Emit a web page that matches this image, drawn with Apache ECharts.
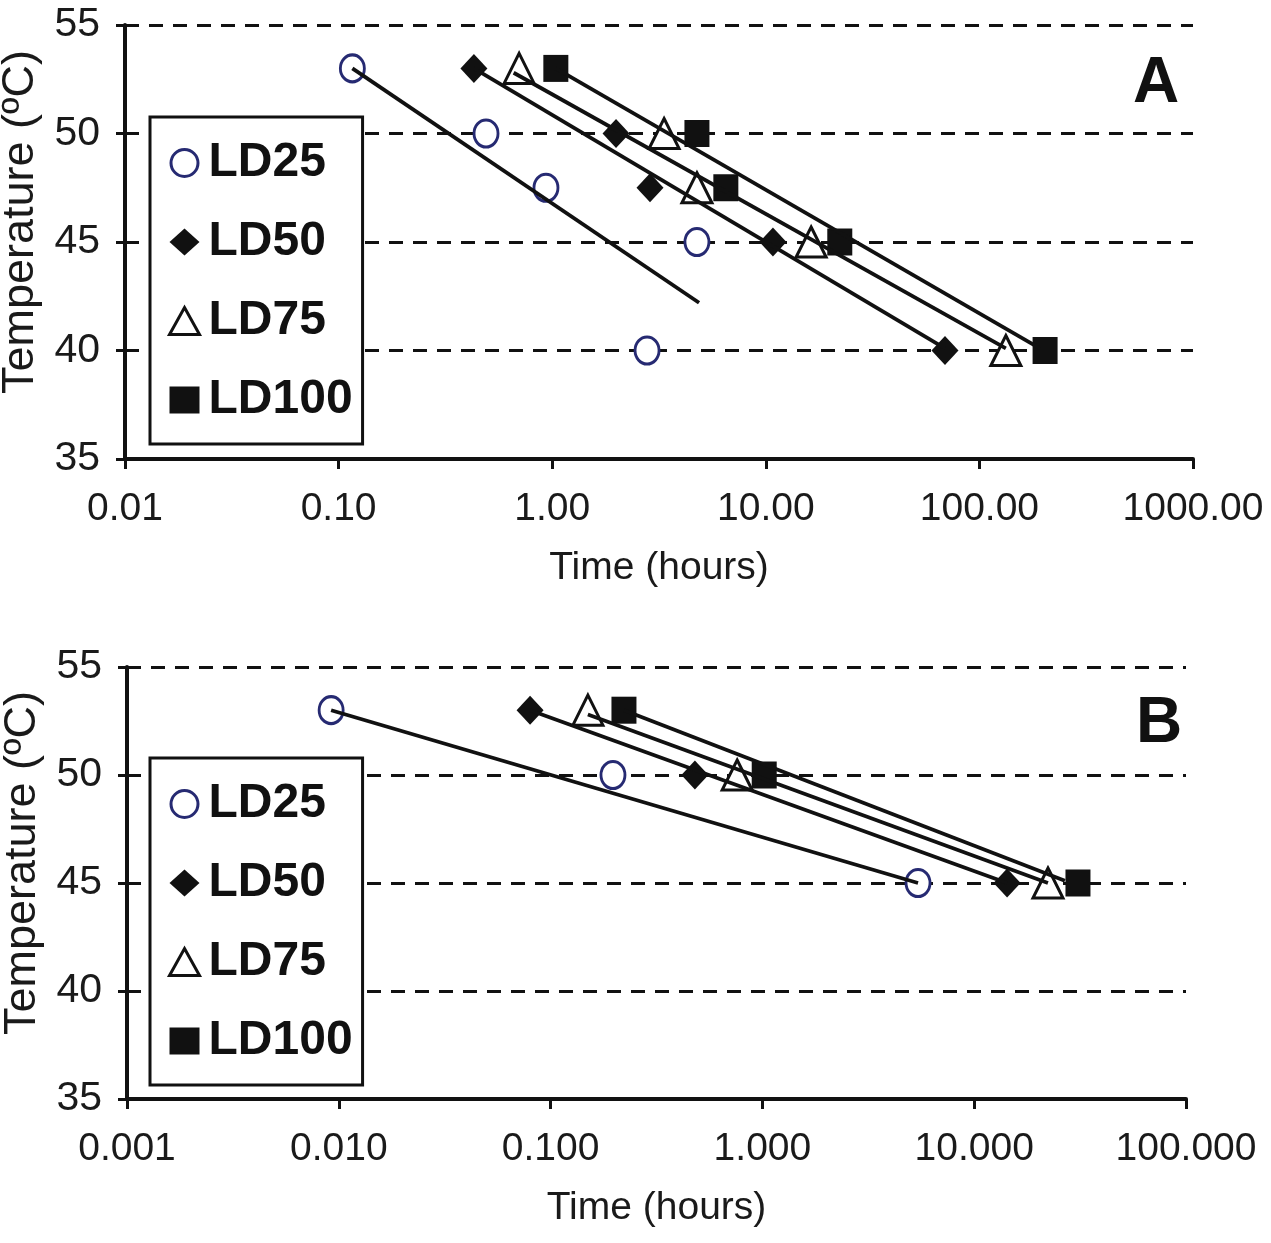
<!DOCTYPE html>
<html>
<head>
<meta charset="utf-8">
<script src="https://cdn.jsdelivr.net/npm/echarts@6/dist/echarts.min.js"></script>
<style>
html,body{margin:0;padding:0;background:#fff;}
#chart{width:1271px;height:1243px;}
</style>
</head>
<body>
<div id="chart"></div>
<script>
// ---------- data ----------
const seriesNames = ['LD25', 'LD50', 'LD75', 'LD100'];

// Panel A : [time (hours), temperature (°C)]
const A_LD25  = [[0.116, 53], [0.49, 50], [0.935, 47.5], [4.76, 45], [2.78, 40]];
const A_LD50  = [[0.43, 53], [1.99, 50], [2.87, 47.5], [10.8, 45], [69, 40]];
const A_LD75  = [[0.70, 53], [3.34, 50], [4.76, 47.5], [16.3, 45], [133, 40]];
const A_LD100 = [[1.04, 53], [4.76, 50], [6.5, 47.5], [22.2, 45], [203, 40]];
// Panel A regression lines (end points)
const A_fit25  = [[0.116, 53.0], [4.87, 42.2]];
const A_fit50  = [[0.43, 53.0], [69, 40.1]];
const A_fit75  = [[0.66, 52.8], [133, 40.1]];
const A_fit100 = [[1.04, 53.0], [192, 40.1]];

// Panel B
const B_LD25  = [[0.0092, 53], [0.197, 50], [5.43, 45]];
const B_LD50  = [[0.080, 53], [0.48, 50], [14.3, 45]];
const B_LD75  = [[0.150, 53], [0.76, 50], [22.3, 45]];
const B_LD100 = [[0.222, 53], [1.02, 50], [30.9, 45]];
const B_fit25  = [[0.0092, 53.0], [5.43, 45.0]];
const B_fit50  = [[0.080, 53.0], [14.3, 45.0]];
const B_fit75  = [[0.150, 52.8], [22.3, 45.0]];
const B_fit100 = [[0.222, 53.0], [26.8, 45.1]];

// tick labels
const xTickValuesA = [0.01, 0.1, 1, 10, 100, 1000];
const xTickLabelsA = ['0.01', '0.10', '1.00', '10.00', '100.00', '1000.00'];
const xTickValuesB = [0.001, 0.01, 0.1, 1, 10, 100];
const xTickLabelsB = ['0.001', '0.010', '0.100', '1.000', '10.000', '100.000'];
const yTicks = [35, 40, 45, 50, 55];

// ---------- styles ----------
const FONT = "'Liberation Sans', Arial, sans-serif";
const NAVY = '#262a72';
const INK = '#111';
const symbolStyles = {
  LD25:  {symbol: 'circle',   size: [24, 27], itemStyle: {color: '#fff', borderColor: NAVY, borderWidth: 3, opacity: 1}},
  LD50:  {symbol: 'diamond',  size: [27, 29], itemStyle: {color: INK, opacity: 1}},
  LD75:  {symbol: 'triangle', size: [30, 30], itemStyle: {color: '#fff', borderColor: INK, borderWidth: 3, opacity: 1}},
  LD100: {symbol: 'rect',     size: [25, 27], itemStyle: {color: INK, opacity: 1}}
};

function labelFor(values, labels) {
  return function (v) {
    for (let i = 0; i < values.length; i++) {
      if (Math.abs(Math.log10(v) - Math.log10(values[i])) < 1e-6) return labels[i];
    }
    return '';
  };
}

function xAxisDef(gridIndex, values, labels) {
  return {
    type: 'log', logBase: 10, gridIndex: gridIndex,
    min: values[0], max: values[values.length - 1], splitNumber: 5,
    name: 'Time (hours)', nameLocation: 'middle', nameGap: 90,
    nameTextStyle: {fontFamily: FONT, fontSize: 39, color: '#1a1a1a'},
    axisLine: {show: true, lineStyle: {color: INK, width: 4}},
    axisTick: {show: true, inside: false, length: 10, lineStyle: {color: INK, width: 3}},
    minorTick: {show: false},
    splitLine: {show: false},
    axisLabel: {margin: 31, fontFamily: FONT, fontSize: 39, color: '#1a1a1a',
                formatter: labelFor(values, labels)}
  };
}

function yAxisDef(gridIndex) {
  return {
    type: 'value', gridIndex: gridIndex,
    min: yTicks[0], max: yTicks[yTicks.length - 1], interval: 5,
    name: 'Temperature (ºC)', nameLocation: 'middle', nameGap: 80,
    nameTextStyle: {fontFamily: FONT, fontSize: 45, color: '#1a1a1a', padding: [0, 0, 0, 40]},
    axisLine: {show: true, lineStyle: {color: INK, width: 4}},
    axisTick: {show: true, inside: false, length: 9, lineStyle: {color: INK, width: 3}},
    splitLine: {show: true, lineStyle: {color: INK, width: 3, type: [14, 10]}},
    axisLabel: {margin: 25, fontFamily: FONT, fontSize: 41, color: '#1a1a1a'}
  };
}

function scatter(name, data, idx) {
  const s = symbolStyles[name];
  return {
    type: 'scatter', name: name, data: data,
    xAxisIndex: idx, yAxisIndex: idx,
    symbol: s.symbol, symbolSize: s.size, itemStyle: s.itemStyle,
    z: 3, silent: true
  };
}
function fit(id, data, idx) {
  return {
    type: 'line', name: id, data: data,
    xAxisIndex: idx, yAxisIndex: idx,
    symbol: 'none', lineStyle: {color: INK, width: 3.8}, z: 4, silent: true
  };
}

function legendDef(top) {
  return {
    orient: 'vertical', left: 150, top: top,
    padding: [22, 10, 20, 18],
    itemGap: 31, itemWidth: 30, itemHeight: 27,
    borderColor: INK, borderWidth: 3, backgroundColor: '#fff',
    selectedMode: false,
    textStyle: {fontFamily: FONT, fontSize: 48, fontWeight: 'bold', color: INK,
                lineHeight: 44, padding: [0, 0, 0, 4]},
    data: seriesNames.map(n => ({name: n, icon: symbolStyles[n].symbol, itemStyle: symbolStyles[n].itemStyle}))
  };
}

const option = {
  backgroundColor: '#fff',
  animation: false,
  title: [
    {text: 'A', left: 1133, top: 52, padding: 0,
     textStyle: {fontFamily: FONT, fontSize: 64, fontWeight: 'bold', color: INK}},
    {text: 'B', left: 1136, top: 692, padding: 0,
     textStyle: {fontFamily: FONT, fontSize: 64, fontWeight: 'bold', color: INK}}
  ],
  legend: [legendDef(117), legendDef(758)],
  grid: [
    {left: 125, top: 25, width: 1068, height: 434, containLabel: false, outerBoundsMode: 'none'},
    {left: 127, top: 667, width: 1059, height: 432, containLabel: false, outerBoundsMode: 'none'}
  ],
  xAxis: [xAxisDef(0, xTickValuesA, xTickLabelsA), xAxisDef(1, xTickValuesB, xTickLabelsB)],
  yAxis: [yAxisDef(0), yAxisDef(1)],
  series: [
    scatter('LD25', A_LD25, 0), scatter('LD50', A_LD50, 0),
    scatter('LD75', A_LD75, 0), scatter('LD100', A_LD100, 0),
    fit('fitA25', A_fit25, 0), fit('fitA50', A_fit50, 0),
    fit('fitA75', A_fit75, 0), fit('fitA100', A_fit100, 0),
    scatter('LD25', B_LD25, 1), scatter('LD50', B_LD50, 1),
    scatter('LD75', B_LD75, 1), scatter('LD100', B_LD100, 1),
    fit('fitB25', B_fit25, 1), fit('fitB50', B_fit50, 1),
    fit('fitB75', B_fit75, 1), fit('fitB100', B_fit100, 1)
  ]
};

const chart = echarts.init(document.getElementById('chart'), null, {renderer: 'canvas'});
chart.setOption(option);
</script>
</body>
</html>
